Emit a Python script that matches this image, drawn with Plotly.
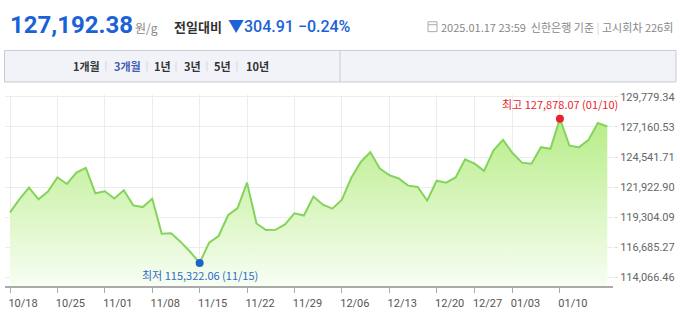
import plotly.graph_objects as go

# ---------------- data ----------------
dates = [
    "2024-10-18",
    "2024-10-21", "2024-10-22", "2024-10-23", "2024-10-24", "2024-10-25",
    "2024-10-28", "2024-10-29", "2024-10-30", "2024-10-31", "2024-11-01",
    "2024-11-04", "2024-11-05", "2024-11-06", "2024-11-07", "2024-11-08",
    "2024-11-11", "2024-11-12", "2024-11-13", "2024-11-14", "2024-11-15",
    "2024-11-18", "2024-11-19", "2024-11-20", "2024-11-21", "2024-11-22",
    "2024-11-25", "2024-11-26", "2024-11-27", "2024-11-28", "2024-11-29",
    "2024-12-02", "2024-12-03", "2024-12-04", "2024-12-05", "2024-12-06",
    "2024-12-09", "2024-12-10", "2024-12-11", "2024-12-12", "2024-12-13",
    "2024-12-16", "2024-12-17", "2024-12-18", "2024-12-19", "2024-12-20",
    "2024-12-23", "2024-12-24", "2024-12-26", "2024-12-27",
    "2024-12-30", "2024-12-31", "2025-01-02", "2025-01-03",
    "2025-01-06", "2025-01-07", "2025-01-08", "2025-01-09", "2025-01-10",
    "2025-01-13", "2025-01-14", "2025-01-15", "2025-01-16", "2025-01-17",
]
prices = [
    119733, 120875, 121880, 120860, 121536, 122764,
    122197, 123193, 123597, 121390, 121560,
    120935, 121648, 120334, 120188, 120909,
    117870, 117905, 117157, 116299, 115322.06,
    117097, 117672, 119476, 120102, 122309,
    118763, 118188, 118214, 118677, 119647,
    119450, 121107, 120394, 120051, 120823,
    122738, 124112, 124971, 123537, 122970,
    122678, 122051, 121940, 120763, 122481,
    122309, 122764, 124344, 123966,
    123339, 125117, 126027, 124885,
    124052, 123966, 125400, 125254, 127878.07,
    125546, 125380, 126010, 127497.29, 127192.38,
]
x_tick_dates = ["2024-10-18", "2024-10-25", "2024-11-01", "2024-11-08", "2024-11-15",
                "2024-11-22", "2024-11-29", "2024-12-06", "2024-12-13", "2024-12-20",
                "2024-12-27", "2025-01-03", "2025-01-10"]
y_ticks = [114066.46, 116685.27, 119304.09, 121922.90, 124541.71, 127160.53, 129779.34]
tabs = ["1개월", "3개월", "1년", "3년", "5년", "10년"]
selected_tab = "3개월"
current_price = "127,192.38"
change_text = "▼304.91 −0.24%"
info_date = "2025.01.17 23:59"

# ---------------- figure ----------------
W, H = 680, 312
PX0, PX1 = 5, 613       # plot area px
PY0, PY1 = 92, 286      # plot area px (top, bottom)

def px(x):
    return x / W

def py(y):
    return (H - y) / H

FONT = "Roboto, 'Noto Sans CJK KR', sans-serif"
KFONT = "'Noto Sans CJK KR', Roboto, sans-serif"

imax = prices.index(max(prices))
imin = prices.index(min(prices))

fig = go.Figure()
fig.add_trace(go.Scatter(
    x=dates, y=prices, mode="lines",
    line=dict(color="#84d45c", width=2),
    fill="tozeroy",
    fillgradient=dict(type="vertical", start=113293, stop=128500,
                      colorscale=[[0, "rgb(249,254,245)"], [1, "rgb(180,236,130)"]]),
    hoverinfo="skip", showlegend=False,
))
fig.add_trace(go.Scatter(
    x=[dates[imax]], y=[prices[imax]], mode="markers",
    marker=dict(color="#e8232b", size=8), showlegend=False, hoverinfo="skip"))
fig.add_trace(go.Scatter(
    x=[dates[imin]], y=[prices[imin]], mode="markers",
    marker=dict(color="#1d63d0", size=8), showlegend=False, hoverinfo="skip"))

def mmdd(d):
    return d[5:7] + "/" + d[8:10]

fig.update_layout(
    width=W, height=H,
    margin=dict(l=0, r=0, t=0, b=0, pad=0),
    paper_bgcolor="white", plot_bgcolor="white",
    font=dict(family=FONT, size=11, color="#555"),
    xaxis=dict(
        type="category", domain=[px(PX0), px(PX1)],
        range=[-0.53, 63.6],
        tickmode="array", tickvals=x_tick_dates,
        ticktext=[mmdd(d) for d in x_tick_dates],
        ticks="outside", ticklen=5, tickcolor="#aaaaaa", tickwidth=1,
        ticklabelshift=13,
        showgrid=True, gridcolor="#ececec", gridwidth=1,
        showline=True, linecolor="#aaaaaa", linewidth=2,
        zeroline=False,
        tickfont=dict(size=11, color="#555"),
    ),
    yaxis=dict(
        domain=[py(PY1), py(PY0)],
        range=[113293, 129951],
        side="right",
        tickmode="array", tickvals=y_ticks,
        ticktext=[f"{v:,.2f}" for v in y_ticks],
        ticks="outside", ticklen=4, tickcolor="#e0e0e0",
        showgrid=True, gridcolor="#ececec", gridwidth=1,
        zeroline=False, showline=False,
        tickfont=dict(size=11, color="#666"),
    ),
)

ann = []
# max / min labels
ann.append(dict(x=dates[imax], y=prices[imax], xref="x", yref="y",
                text=f"최고 {prices[imax]:,.2f} ({mmdd(dates[imax])})",
                showarrow=False, yshift=15, font=dict(family=KFONT, size=11, color="#e8232b")))
ann.append(dict(x=dates[imin], y=prices[imin], xref="x", yref="y",
                text=f"최저 {prices[imin]:,.2f} ({mmdd(dates[imin])})",
                showarrow=False, yshift=-12, font=dict(family=KFONT, size=11, color="#2e6cc9")))

# header
ann.append(dict(x=px(8), y=py(21), xref="paper", yref="paper", xanchor="left", yanchor="middle",
                text=f"<b>{current_price}</b>", showarrow=False,
                font=dict(family=FONT, size=24, color="#1a62d6")))
ann.append(dict(x=px(133), y=py(24), xref="paper", yref="paper", xanchor="left", yanchor="middle",
                text="원/g", showarrow=False, font=dict(family=KFONT, size=12, color="#888")))
ann.append(dict(x=px(172), y=py(23), xref="paper", yref="paper", xanchor="left", yanchor="middle",
                text="<b>전일대비</b>", showarrow=False, font=dict(family=KFONT, size=13, color="#333")))
ann.append(dict(x=px(226), y=py(23), xref="paper", yref="paper", xanchor="left", yanchor="middle",
                text=change_text, showarrow=False,
                font=dict(family=FONT, size=16, color="#1a62d6", weight=500)))
ann.append(dict(x=px(675), y=py(23), xref="paper", yref="paper", xanchor="right", yanchor="middle",
                text=f"{info_date}  신한은행 기준 <span style='color:#d0d0d0'>|</span> 고시회차 226회",
                showarrow=False, font=dict(family=KFONT, size=11, color="#888")))

# tabs
tab_x = [71, 112, 152, 182, 212, 244]
sep_x = [106, 147, 176, 207, 237]
for t, xx in zip(tabs, tab_x):
    ann.append(dict(x=px(xx), y=py(63), xref="paper", yref="paper", xanchor="left", yanchor="middle",
                    text=f"<b>{t}</b>", showarrow=False,
                    font=dict(family=KFONT, size=11, color="#4260b3" if t == selected_tab else "#333")))

shapes = []
shapes.append(dict(type="rect", xref="paper", yref="paper", x0=px(4.5), x1=px(676), y0=py(79), y1=py(47),
                   fillcolor="#f1f3f8", line=dict(color="#c8cbd2", width=1), layer="below"))
shapes.append(dict(type="line", xref="paper", yref="paper", x0=px(340), x1=px(340), y0=py(79), y1=py(47),
                   line=dict(color="#c8cbd2", width=1)))
for sx in sep_x:
    shapes.append(dict(type="line", xref="paper", yref="paper", x0=px(sx), x1=px(sx), y0=py(68), y1=py(58),
                       line=dict(color="#d5d7dc", width=1)))
# small calendar icon
shapes.append(dict(type="rect", xref="paper", yref="paper", x0=px(428), x1=px(437), y0=py(28), y1=py(18),
                   fillcolor="white", line=dict(color="#aaa", width=1)))
shapes.append(dict(type="line", xref="paper", yref="paper", x0=px(428), x1=px(437), y0=py(21), y1=py(21),
                   line=dict(color="#aaa", width=1)))

fig.update_layout(annotations=ann, shapes=shapes)
fig.write_html("out.html")
